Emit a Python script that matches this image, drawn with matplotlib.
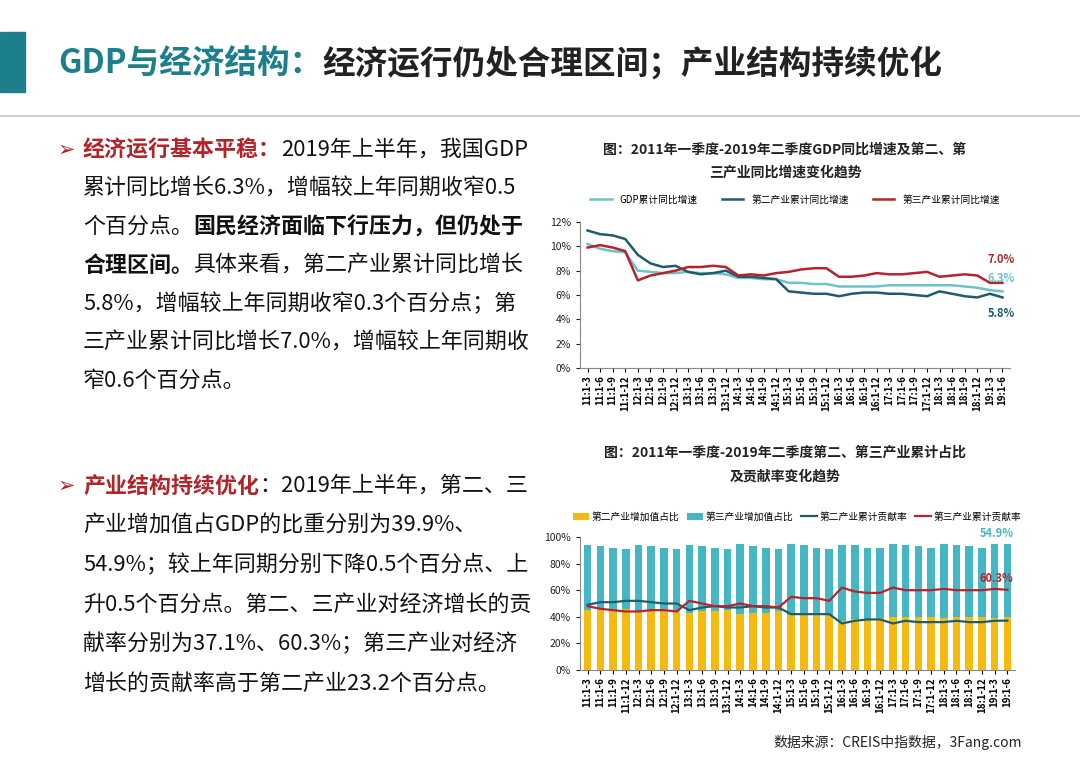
import numpy as np
import matplotlib.pyplot as plt
from matplotlib.patches import Rectangle

plt.rcParams['font.family'] = ['Noto Sans CJK SC', 'DejaVu Sans']

W, H = 1080, 764

quarters = [f"{y}:1-{m}" for y in range(11, 20) for m in (3, 6, 9, 12)][:34]

gdp_growth = [10.2, 9.8, 9.6, 9.5, 8.0, 7.9, 7.8, 7.8, 7.9, 7.8, 7.8, 7.7,
              7.4, 7.4, 7.3, 7.3, 7.0, 7.0, 6.9, 6.9, 6.7, 6.7, 6.7, 6.7,
              6.8, 6.8, 6.8, 6.8, 6.8, 6.8, 6.7, 6.6, 6.4, 6.3]
sec_growth = [11.3, 11.0, 10.9, 10.6, 9.3, 8.6, 8.3, 8.4, 7.9, 7.7, 7.8, 8.0,
              7.5, 7.5, 7.4, 7.3, 6.3, 6.2, 6.1, 6.1, 5.9, 6.1, 6.2, 6.2,
              6.1, 6.1, 6.0, 5.9, 6.3, 6.1, 5.9, 5.8, 6.1, 5.8]
ter_growth = [9.9, 10.1, 9.9, 9.6, 7.2, 7.6, 7.8, 8.0, 8.3, 8.3, 8.4, 8.3,
              7.6, 7.7, 7.6, 7.8, 7.9, 8.1, 8.2, 8.2, 7.5, 7.5, 7.6, 7.8,
              7.7, 7.7, 7.8, 7.9, 7.5, 7.6, 7.7, 7.6, 7.0, 7.0]

sec_share = [45, 46, 45, 46, 44, 45, 45, 45, 43, 44, 44, 45,
             42, 43, 43, 44, 41, 41, 41, 41, 37, 38, 38, 39,
             40, 40, 40, 40, 39, 40, 40, 40, 39.4, 39.9]
total_share = [94, 93, 92, 91, 94, 93, 92, 91, 94, 93, 92, 91,
               95, 93, 92, 91, 95, 94, 92, 91, 94, 94, 92, 92,
               95, 94, 93, 92, 95, 94, 93, 92, 95, 94.8]
ter_share = [t - s for t, s in zip(total_share, sec_share)]
sec_contrib = [49, 51, 51, 52, 52, 51, 50, 50, 45, 47, 48, 47,
               47, 48, 47, 47, 42, 42, 42, 42, 35, 37, 38, 38,
               35, 37, 36, 36, 36, 37, 36, 36, 37, 37.1]
ter_contrib = [48, 46, 45, 44, 44, 45, 45, 44, 52, 50, 48, 48,
               50, 48, 48, 47, 55, 54, 54, 52, 62, 59, 58, 58,
               62, 60, 60, 60, 61, 60, 60, 60, 61, 60.3]

C_GDP = '#6cc3c9'
C_SEC = '#1f5c6e'
C_TER = '#b8232b'
C_YEL = '#f5b90f'
C_TEAL = '#45b7c4'
RED = '#b0242a'

fig = plt.figure(figsize=(W / 100, H / 100), dpi=100)


def fx(x):
    return x / W


def fy(y):
    return 1 - y / H


# header
fig.patches.append(Rectangle((0, fy(92)), fx(25), fy(32) - fy(92), transform=fig.transFigure,
                             color='#1d7f8c'))
fig.add_artist(plt.Line2D([0, 1], [fy(116), fy(116)], color='#d0d0d0', lw=1.5))
t1 = fig.text(fx(58), fy(64), "GDP与经济结构：", fontsize=23.5, weight='bold', color='#1d7f8c', va='center')
fig.canvas.draw()
r = fig.canvas.get_renderer()
bb = t1.get_window_extent(r)
fig.text(bb.x1 / W, fy(64), "经济运行仍处合理区间；产业结构持续优化", fontsize=23.5,
         weight='bold', color='#222222', va='center')


def seg_line(x, y, segs, size=15.8):
    cur = x
    for txt, col, bold in segs:
        t = fig.text(cur / W, fy(y), txt, fontsize=size, color=col,
                     weight='bold' if bold else 'normal', va='center')
        cur = t.get_window_extent(r).x1


K = '#111111'
fig.text(fx(58), fy(150), "➢", fontsize=15, color=RED, va='center', family=['DejaVu Sans'])
para1 = [
    [("经济运行基本平稳：", RED, True), ("2019年上半年，我国GDP", K, False)],
    [("累计同比增长6.3%，增幅较上年同期收窄0.5", K, False)],
    [("个百分点。", K, False), ("国民经济面临下行压力，但仍处于", K, True)],
    [("合理区间。", K, True), ("具体来看，第二产业累计同比增长", K, False)],
    [("5.8%，增幅较上年同期收窄0.3个百分点；第", K, False)],
    [("三产业累计同比增长7.0%，增幅较上年同期收", K, False)],
    [("窄0.6个百分点。", K, False)],
]
for i, segs in enumerate(para1):
    seg_line(83, 150 + i * 38.5, segs)

fig.text(fx(58), fy(486), "➢", fontsize=15, color=RED, va='center', family=['DejaVu Sans'])
para2 = [
    [("产业结构持续优化", RED, True), ("：2019年上半年，第二、三", K, False)],
    [("产业增加值占GDP的比重分别为39.9%、", K, False)],
    [("54.9%；较上年同期分别下降0.5个百分点、上", K, False)],
    [("升0.5个百分点。第二、三产业对经济增长的贡", K, False)],
    [("献率分别为37.1%、60.3%；第三产业对经济", K, False)],
    [("增长的贡献率高于第二产业23.2个百分点。", K, False)],
]
for i, segs in enumerate(para2):
    seg_line(83, 486 + i * 39.5, segs)

# chart titles
for txt, yy in [("图：2011年一季度-2019年二季度GDP同比增速及第二、第", 150),
                ("三产业同比增速变化趋势", 173),
                ("图：2011年一季度-2019年二季度第二、第三产业累计占比", 453),
                ("及贡献率变化趋势", 477)]:
    fig.text(fx(785), fy(yy), txt, fontsize=10, weight='bold', ha='center', va='center', color='#222')
fig.text(fx(1022), fy(742), "数据来源：CREIS中指数据，3Fang.com", fontsize=10,
         ha='right', va='center', color='#222')

x = np.arange(len(quarters))


def style_axis(ax):
    for s in ('top', 'right'):
        ax.spines[s].set_visible(False)
    ax.spines['left'].set_color('#888')
    ax.spines['bottom'].set_color('#888')
    ax.set_xticks(x)
    ax.set_xticklabels(quarters, rotation=90, fontsize=7, weight='bold')
    ax.tick_params(axis='y', labelsize=7.5, length=3, colors='#222')
    ax.tick_params(axis='x', length=3, pad=2)
    ax.set_xlim(-0.6, len(quarters) - 0.4)


# top chart
ax1 = fig.add_axes([fx(580), fy(368), fx(1010 - 580), fy(222) - fy(368)])
ax1.plot(x, gdp_growth, color=C_GDP, lw=1.8, label='GDP累计同比增速')
ax1.plot(x, sec_growth, color=C_SEC, lw=1.8, label='第二产业累计同比增速')
ax1.plot(x, ter_growth, color=C_TER, lw=1.8, label='第三产业累计同比增速')
ax1.set_ylim(0, 12)
ax1.set_yticks(range(0, 13, 2))
ax1.set_yticklabels([f"{v}%" for v in range(0, 13, 2)])
style_axis(ax1)
ax1.text(x[-1] + 1.0, ter_growth[-1] + 1.6, "7.0%", color=C_TER, fontsize=8, weight='bold', ha='right')
ax1.text(x[-1] + 1.0, gdp_growth[-1] + 0.8, "6.3%", color=C_GDP, fontsize=8, weight='bold', ha='right')
ax1.text(x[-1] + 1.0, sec_growth[-1] - 1.6, "5.8%", color=C_SEC, fontsize=8, weight='bold', ha='right')
ax1.legend(loc='lower center', bbox_to_anchor=(0.5, 1.06), ncol=3, frameon=False, fontsize=7,
           handlelength=2.2, columnspacing=2.5)

# bottom chart
ax2 = fig.add_axes([fx(580), fy(670), fx(1015 - 580), fy(537) - fy(670)])
ax2.bar(x, sec_share, width=0.6, color=C_YEL, label='第二产业增加值占比')
ax2.bar(x, ter_share, width=0.6, bottom=sec_share, color=C_TEAL, label='第三产业增加值占比')
ax2.plot(x, sec_contrib, color=C_SEC, lw=1.6, label='第二产业累计贡献率')
ax2.plot(x, ter_contrib, color=C_TER, lw=1.6, label='第三产业累计贡献率')
ax2.set_ylim(0, 100)
ax2.set_yticks(range(0, 101, 20))
ax2.set_yticklabels([f"{v}%" for v in range(0, 101, 20)])
style_axis(ax2)
ax2.text(x[-1] + 0.5, 100, "54.9%", color=C_TEAL, fontsize=8, weight='bold', ha='right')
ax2.text(x[-1] + 0.5, 66, "60.3%", color=C_TER, fontsize=8, weight='bold', ha='right')
h, l = ax2.get_legend_handles_labels()
ax2.legend([h[2], h[3], h[0], h[1]], [l[2], l[3], l[0], l[1]], loc='lower center',
           bbox_to_anchor=(0.5, 1.05), ncol=4, frameon=False, fontsize=7,
           handlelength=1.6, columnspacing=0.8, handletextpad=0.3)

fig.savefig('out.png', dpi=100)
